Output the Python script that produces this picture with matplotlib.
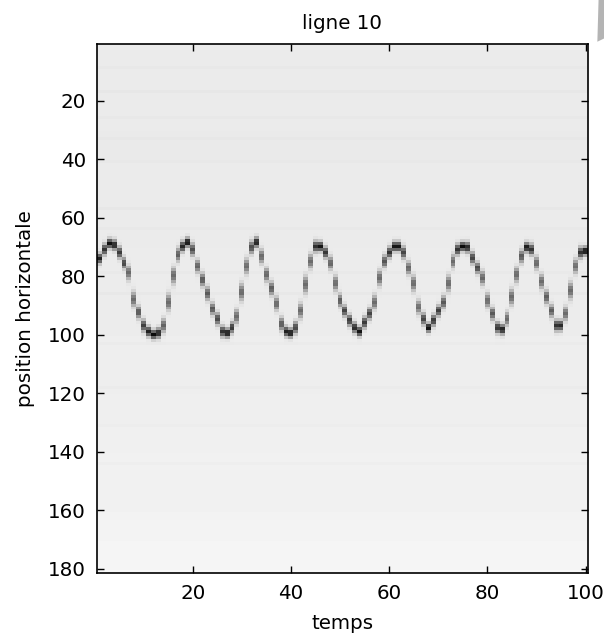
import numpy as np
import matplotlib
matplotlib.use('Agg')
import matplotlib.pyplot as plt
from matplotlib.patches import Polygon

# centre of the dark trace (row) for each time step
temps = np.arange(1, 101)
position = [74, 71, 69, 69.5, 72, 75.6, 79, 88, 92.5, 97,
            99, 100, 99.5, 97, 89, 80, 72.7, 70, 68.6, 71,
            76.7, 81.4, 86, 91.3, 94.8, 99, 99.5, 97.7, 94, 85.5,
            76.7, 70.3, 68.6, 73.3, 79.7, 84.3, 89.5, 96.5, 99, 99.5,
            97.7, 92, 83, 75, 70, 70, 72, 75.6, 82.6, 88.4,
            92, 95.3, 97.7, 99, 96, 93, 89, 80.8, 75, 72,
            70, 70, 72, 77.3, 82.6, 90.7, 94.8, 97.7, 95.3, 92,
            89, 82.6, 75, 71, 70, 70.3, 73.8, 77.3, 80.8, 88.4,
            93, 97.7, 98.3, 94.8, 87.2, 79.7, 73.3, 70.3, 71, 75.6,
            82, 87.2, 92, 97, 97, 93, 85, 76.7, 72, 71.5]

n_rows = 181
# background grey level, one value per band of 10 rows
band_levels = [0.92, 0.918, 0.92, 0.915, 0.92, 0.918, 0.92, 0.925, 0.922, 0.925,
               0.93, 0.93, 0.935, 0.94, 0.942, 0.945, 0.952, 0.96, 0.965]
# faint darker horizontal streaks
streak_rows = [9, 17, 26, 33, 41, 57, 64, 79, 86, 103, 118, 131, 144]

rows = np.arange(1, n_rows + 1)
bg = np.repeat(band_levels, 10)[:n_rows].astype(float)
for r in streak_rows:
    bg[r - 1] -= 0.012

img = np.tile(bg[:, None], (1, len(temps)))
pos = np.array(position)
for j in range(len(temps)):
    lo = pos[max(j - 1, 0)]
    hi = pos[min(j + 1, len(pos) - 1)]
    slope = abs(hi - lo) / 2
    depth = np.clip(0.9 - 0.07 * slope, 0.5, 0.9)
    sig = 0.95 + 0.1 * slope
    img[:, j] -= depth * np.exp(-(rows - pos[j]) ** 2 / (2 * sig ** 2))
img = np.clip(img, 0, 1)

plt.rcParams['font.family'] = 'DejaVu Sans'
fig = plt.figure(figsize=(6.04, 6.42), dpi=100)
ax = fig.add_axes([0.1606, 0.1075, 0.8129, 0.824])
ax.imshow(img, cmap='gray', vmin=0, vmax=1, aspect='auto',
          extent=(0.5, 100.5, n_rows + 0.5, 0.5), interpolation='nearest')

ax.set_xticks([20, 40, 60, 80, 100])
ax.set_yticks(range(20, 181, 20))
ax.tick_params(direction='in', top=True, right=True, length=5, width=1,
               labelsize=14.3, pad=8)
for s in ax.spines.values():
    s.set_linewidth(1.2)

ax.set_title('ligne 10', fontsize=14.3, pad=11)
ax.set_xlabel('temps', fontsize=14.3, labelpad=8)
ax.set_ylabel('position horizontale', fontsize=14.3, labelpad=9)

# small grey sliver at the top right corner
fig.patches.append(Polygon([(0.991, 1.0), (1.0, 1.0), (1.0, 0.94), (0.989, 0.935)],
                           closed=True, transform=fig.transFigure,
                           facecolor='#b4b4b4', edgecolor='none'))

fig.savefig('out.png', dpi=100)
